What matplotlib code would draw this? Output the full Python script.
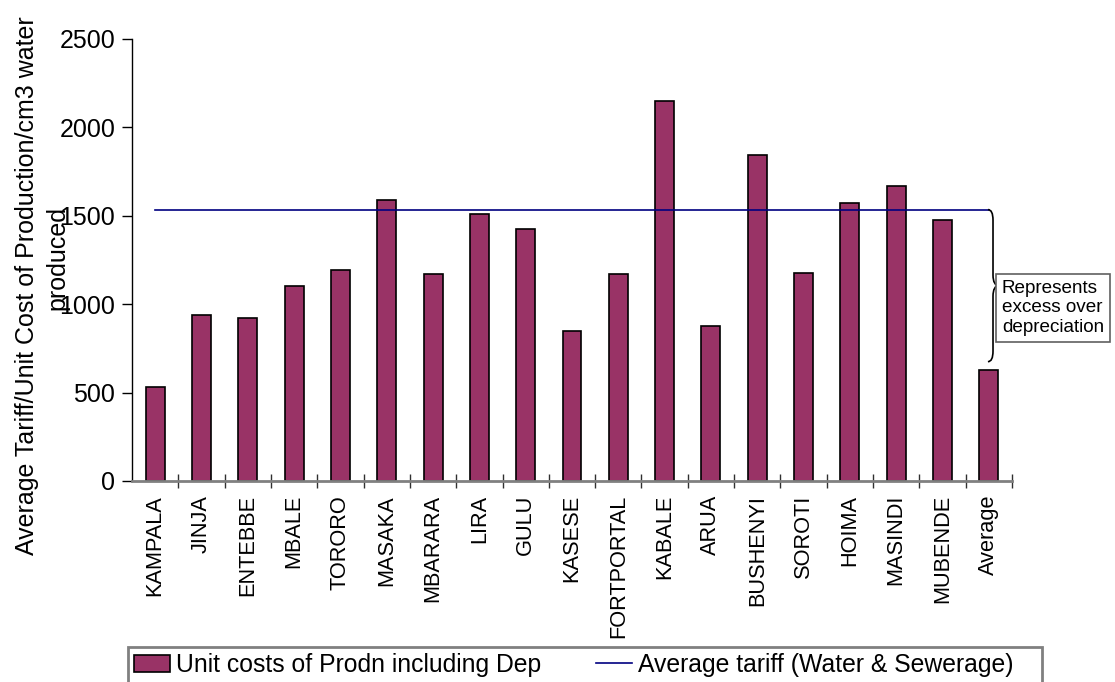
import matplotlib.pyplot as plt
import numpy as np
from matplotlib.path import Path
from matplotlib.patches import PathPatch, Rectangle

plt.rcParams['font.family'] = ['Liberation Sans', 'DejaVu Sans']

towns = ['KAMPALA', 'JINJA', 'ENTEBBE', 'MBALE', 'TORORO', 'MASAKA', 'MBARARA',
         'LIRA', 'GULU', 'KASESE', 'FORTPORTAL', 'KABALE', 'ARUA', 'BUSHENYI',
         'SOROTI', 'HOIMA', 'MASINDI', 'MUBENDE', 'Average']
unit_costs = [533, 937, 924, 1103, 1195, 1588, 1169, 1512, 1425, 850, 1169,
              2150, 877, 1846, 1175, 1574, 1670, 1478, 630]
avg_tariff = [1535] * len(towns)

fig = plt.figure(figsize=(11.15, 6.82), dpi=100)
ax = fig.add_axes([132 / 1115, 1 - 481 / 682, 880 / 1115, 442 / 682])

x = np.arange(len(towns))
bars = ax.bar(x, unit_costs, width=0.41, color='#993366', edgecolor='black',
              linewidth=1.2, label='Unit costs of Prodn including Dep', zorder=2)
line, = ax.plot(x, avg_tariff, color='#000080', linewidth=1.2,
                label='Average tariff (Water & Sewerage)', zorder=3)

ax.set_xlim(-0.5, len(towns) - 0.5)
ax.set_ylim(0, 2500)
ax.set_yticks([0, 500, 1000, 1500, 2000, 2500])
ax.tick_params(axis='y', labelsize=18, length=7, width=1, pad=5, colors='black')

# category names under bars, separator ticks between categories
ax.set_xticks(x)
ax.set_xticklabels(towns, rotation=90, fontsize=15.7)
ax.tick_params(axis='x', which='major', length=0, pad=10)
ax.set_xticks(list(x + 0.5), minor=True)
ax.tick_params(axis='x', which='minor', direction='inout', length=10,
               width=1, color='#303030')

for side in ['top', 'right']:
    ax.spines[side].set_visible(False)
ax.spines['bottom'].set_color('#808080')
ax.spines['bottom'].set_linewidth(2)
ax.spines['left'].set_linewidth(1)

# y axis title, two lines
fig.text(27 / 1115, 1 - 286 / 682,
         'Average Tariff/Unit Cost of Production/cm3 water',
         rotation=90, ha='center', va='center', fontsize=18)
fig.text(57 / 1115, 1 - 258 / 682, 'produced',
         rotation=90, ha='center', va='center', fontsize=18)

# curly brace between tariff line and the average cost bar
n = len(towns) - 1
y_top = avg_tariff[-1]
y_bot = unit_costs[-1] + 45
y_mid = (y_top + y_bot) / 2
x0, x1, xt = n - 0.02, n + 0.09, n + 0.22
d = 60
verts = [(x0, y_top), (x1, y_top), (x1, y_top - d),
         (x1, y_mid + d),
         (x1, y_mid), (xt, y_mid),
         (x1, y_mid), (x1, y_mid - d),
         (x1, y_bot + d),
         (x1, y_bot), (x0, y_bot)]
codes = [Path.MOVETO, Path.CURVE3, Path.CURVE3,
         Path.LINETO,
         Path.CURVE3, Path.CURVE3,
         Path.CURVE3, Path.CURVE3,
         Path.LINETO,
         Path.CURVE3, Path.CURVE3]
ax.add_patch(PathPatch(Path(verts, codes), facecolor='none', edgecolor='black',
                       linewidth=1.2, clip_on=False, zorder=4))

ax.text(n + 0.28, y_mid - 125, 'Represents\nexcess over\ndepreciation',
        fontsize=13.6, ha='left', va='center', linespacing=1.2,
        bbox=dict(boxstyle='square,pad=0.3', facecolor='white',
                  edgecolor='#606060', linewidth=1.2),
        clip_on=False, zorder=5)

# legend along the bottom with its own frame
fig.legend(handles=[bars, line], loc='center left', ncol=2,
           bbox_to_anchor=(134 / 1115, 1 - 665 / 682), frameon=False,
           fontsize=17.8, handlelength=1.46, handleheight=0.69,
           handletextpad=0.25, columnspacing=2.2, borderpad=0,
           borderaxespad=0)
fig.add_artist(Rectangle((128 / 1115, -0.05), (1042 - 128) / 1115,
                         (682 - 647) / 682 + 0.05, transform=fig.transFigure,
                         facecolor='none', edgecolor='#808080', linewidth=2))

fig.savefig('out.png', dpi=100)
